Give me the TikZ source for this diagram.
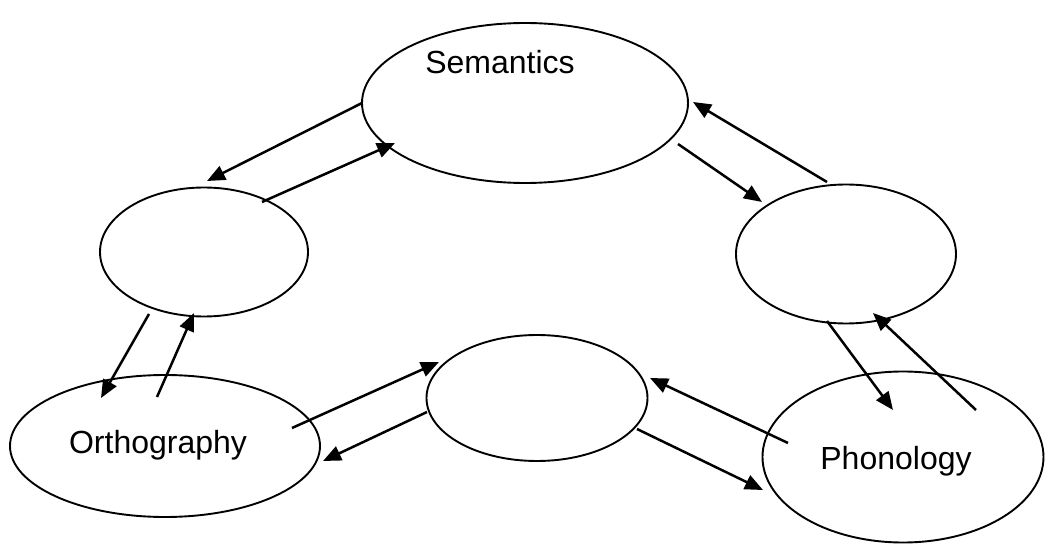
\documentclass[tikz,border=0pt]{standalone}
\usepackage{fontspec}
\setmainfont{Liberation Sans}
\usetikzlibrary{shapes.geometric,arrows.meta}
\begin{document}
\begin{tikzpicture}[x=1pt,y=-1pt,
  oval/.style={draw, ellipse, line width=1.9pt, inner sep=0pt},
  lbl/.style={font=\fontsize{32}{38}\selectfont, inner sep=0pt},
  link/.style={line width=2.5pt, -{Triangle[length=18pt,width=15pt]}}]
\useasboundingbox (0,0) rectangle (1053,553);
% ellipses
\node[oval, minimum width=326pt, minimum height=160pt] (sem) at (525,103) {};
\node[oval, minimum width=208pt, minimum height=129pt] (lm) at (204,252) {};
\node[oval, minimum width=220pt, minimum height=139pt] (rm) at (846,254) {};
\node[oval, minimum width=221pt, minimum height=126pt] (bm) at (537,398) {};
\node[oval, minimum width=310pt, minimum height=142pt] (orth) at (165,446) {};
\node[oval, minimum width=281pt, minimum height=171pt] (phon) at (903,457) {};
% labels
\node[lbl] (semt) at (500,62) {Semantics};
\node[lbl] (ortht) at (158,445) {Orthography};
\node[lbl] (phont) at (896,461) {Phonology};
% arrow end points
\coordinate (a1s) at (362,103); \coordinate (a1e) at (207,181);
\coordinate (a2s) at (262,202); \coordinate (a2e) at (395,143);
\coordinate (a3s) at (827,182); \coordinate (a3e) at (693,102);
\coordinate (a4s) at (678,144); \coordinate (a4e) at (762,202);
\coordinate (a5s) at (827,321); \coordinate (a5e) at (893,410);
\coordinate (a6s) at (976,410); \coordinate (a6e) at (873,313);
\coordinate (a7s) at (149,314); \coordinate (a7e) at (101,398);
\coordinate (a8s) at (157,397); \coordinate (a8e) at (194,313);
\coordinate (a9s) at (292,428); \coordinate (a9e) at (439,362);
\coordinate (a10s) at (427,412); \coordinate (a10e) at (323,461);
\coordinate (a11s) at (788,443); \coordinate (a11e) at (650,378);
\coordinate (a12s) at (637,429); \coordinate (a12e) at (763,490);
% arrows
\foreach \i in {1,...,12} {\draw[link] (a\i s) -- (a\i e);}
\end{tikzpicture}
\end{document}
